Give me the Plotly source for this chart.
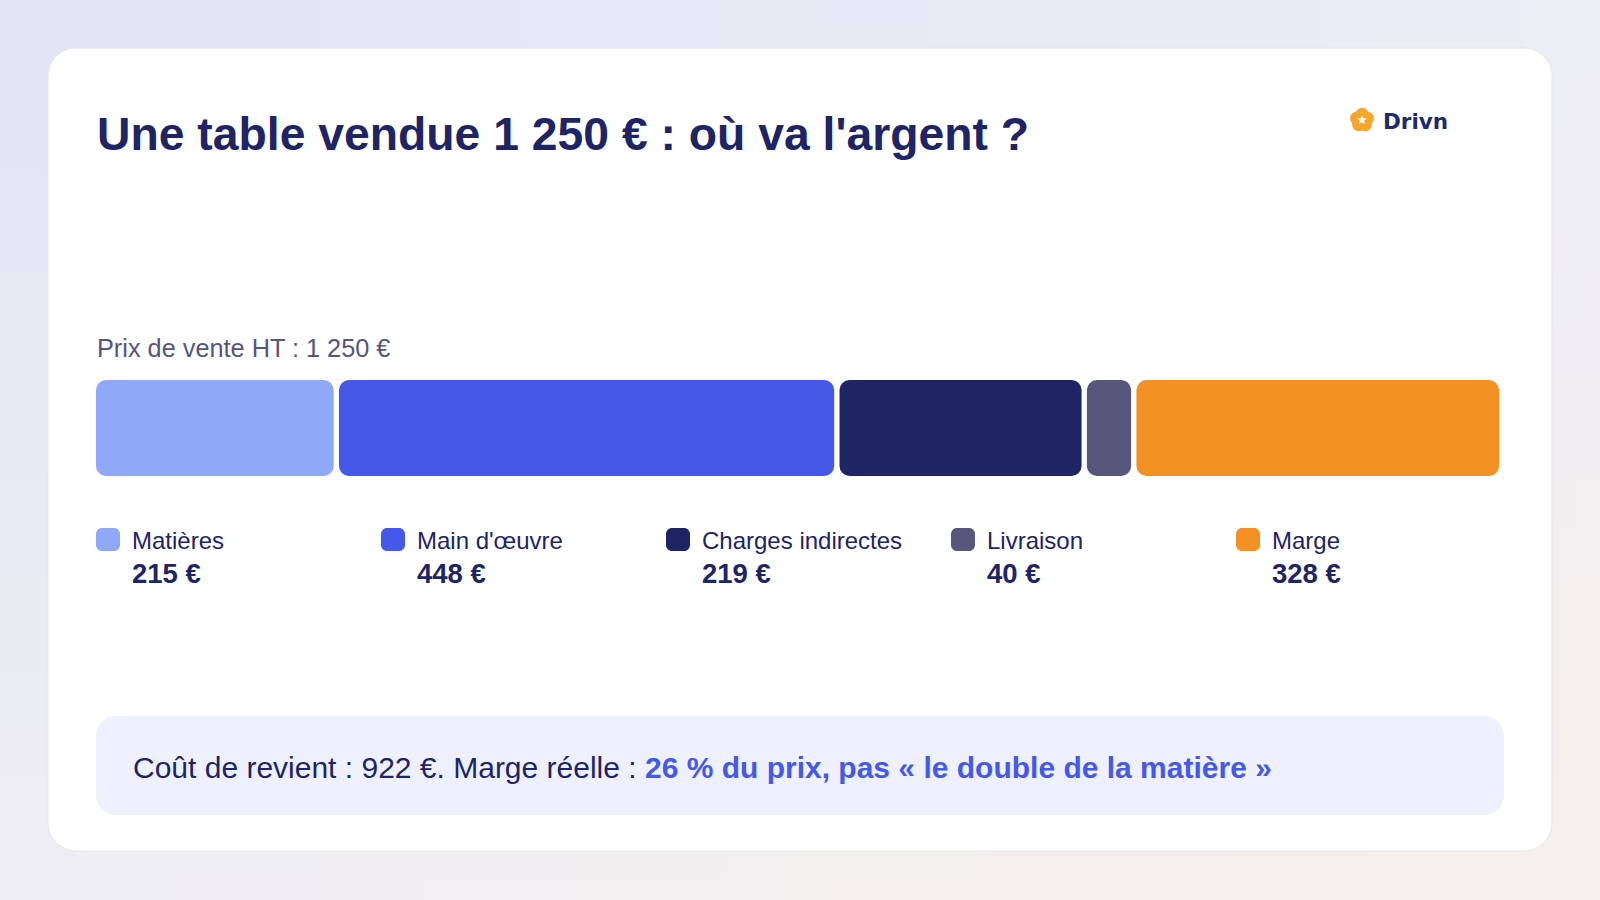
import base64, struct, zlib, math
import plotly.graph_objects as go

W, H = 1600, 900

# ---------------- data ----------------
categories = ["Matières", "Main d'œuvre", "Charges indirectes", "Livraison", "Marge"]
values = [215, 448, 219, 40, 328]
colors = ["#8FA8F8", "#4658E8", "#1E2464", "#56577A", "#F39125"]
price = 1250

NAVY = "#1E2464"
GREY = "#55567A"
BLUE = "#4658E8"
FONT = "Liberation Sans, Arial, Helvetica, sans-serif"


def fmt(n):
    return f"{n:,}".replace(",", " ")


def fx(x):
    return x / W


def fy(y):
    return 1 - y / H


def rr_path(x0, y0, x1, y1, r):
    k = 0.5523 * r
    pts = [
        f"M{fx(x0 + r)},{fy(y0)}",
        f"L{fx(x1 - r)},{fy(y0)}",
        f"C{fx(x1 - r + k)},{fy(y0)} {fx(x1)},{fy(y0 + r - k)} {fx(x1)},{fy(y0 + r)}",
        f"L{fx(x1)},{fy(y1 - r)}",
        f"C{fx(x1)},{fy(y1 - r + k)} {fx(x1 - r + k)},{fy(y1)} {fx(x1 - r)},{fy(y1)}",
        f"L{fx(x0 + r)},{fy(y1)}",
        f"C{fx(x0 + r - k)},{fy(y1)} {fx(x0)},{fy(y1 - r + k)} {fx(x0)},{fy(y1 - r)}",
        f"L{fx(x0)},{fy(y0 + r)}",
        f"C{fx(x0)},{fy(y0 + r - k)} {fx(x0 + r - k)},{fy(y0)} {fx(x0 + r)},{fy(y0)}",
        "Z",
    ]
    return " ".join(pts)


# ---------------- background gradient (png) ----------------
def gradient_png(w, h, tl, tr, bl, br):
    rows = []
    for j in range(h):
        v = j / (h - 1)
        row = bytearray([0])
        for i in range(w):
            u = i / (w - 1)
            for c in range(3):
                top = tl[c] * (1 - u) + tr[c] * u
                bot = bl[c] * (1 - u) + br[c] * u
                row.append(int(round(top * (1 - v) + bot * v)))
        rows.append(bytes(row))
    raw = b"".join(rows)

    def chunk(t, d):
        return struct.pack(">I", len(d)) + t + d + struct.pack(">I", zlib.crc32(t + d) & 0xFFFFFFFF)

    return (b"\x89PNG\r\n\x1a\n" + chunk(b"IHDR", struct.pack(">IIBBBBB", w, h, 8, 2, 0, 0, 0))
            + chunk(b"IDAT", zlib.compress(raw)) + chunk(b"IEND", b""))


png = gradient_png(32, 18, (227, 229, 245), (237, 237, 246), (239, 238, 243), (246, 240, 236))
bg_src = "data:image/png;base64," + base64.b64encode(png).decode()

# ---------------- bars ----------------
BAR_X0, BAR_X1, BAR_Y0, BAR_Y1 = 96, 1499, 380, 476
GAP_PX = 5.3
n = len(values)
gap = GAP_PX * price / ((BAR_X1 - BAR_X0) - (n - 1) * GAP_PX)

fig = go.Figure()
start = 0.0
for cat, v, col in zip(categories, values, colors):
    fig.add_trace(go.Bar(y=[0], x=[v], base=[start], orientation="h", width=1,
                         marker=dict(color=col, line=dict(width=0), cornerradius=10),
                         name=cat, hoverinfo="skip", showlegend=False))
    start = start + v + gap
total_span = start - gap

shapes = []
annotations = []

# card
shapes.append(dict(type="path", path=rr_path(48, 48, 1552, 851, 28), xref="paper", yref="paper",
                   fillcolor="white", line=dict(color="#E4E5EF", width=1), layer="below"))
# bottom box
shapes.append(dict(type="path", path=rr_path(96, 716, 1504, 815, 20), xref="paper", yref="paper",
                   fillcolor="#EEF1FD", line=dict(width=0), layer="below"))

# title
annotations.append(dict(x=fx(95), y=fy(134), xref="paper", yref="paper", xanchor="left", yanchor="middle",
                        showarrow=False,
                        text=f"<b>Une table vendue {fmt(price)} € : où va l'argent ?</b>",
                        font=dict(family=FONT, size=46.3, color=NAVY)))
# subtitle
annotations.append(dict(x=fx(95), y=fy(348), xref="paper", yref="paper", xanchor="left", yanchor="middle",
                        showarrow=False, text=f"Prix de vente HT : {fmt(price)} €",
                        font=dict(family=FONT, size=25.3, color=GREY)))

# logo
LX, LY = 1362, 120
for k in range(5):
    a = math.radians(-90 + k * 72)
    cx, cy = LX + 5.6 * math.cos(a), LY + 5.6 * math.sin(a)
    r = 6.6
    shapes.append(dict(type="circle", xref="paper", yref="paper",
                       x0=fx(cx - r), x1=fx(cx + r), y0=fy(cy + r), y1=fy(cy - r),
                       fillcolor="#F6A52E", line=dict(width=0)))
star = []
for k in range(10):
    a = math.radians(-90 + k * 36)
    rr = 5.0 if k % 2 == 0 else 2.2
    star.append((LX + rr * math.cos(a), LY + rr * math.sin(a)))
star_path = "M" + " L".join(f"{fx(x)},{fy(y)}" for x, y in star) + " Z"
shapes.append(dict(type="path", path=star_path, xref="paper", yref="paper",
                   fillcolor="white", line=dict(width=0)))
annotations.append(dict(x=fx(1381), y=fy(121), xref="paper", yref="paper", xanchor="left", yanchor="middle",
                        showarrow=False, text="<b>Drivn</b>",
                        font=dict(family="DejaVu Sans, sans-serif", size=21.5, color="#1E2A6B")))

# legend
COL_W = 285
for i, (cat, v, col) in enumerate(zip(categories, values, colors)):
    sx = 96 + i * COL_W
    shapes.append(dict(type="path", path=rr_path(sx, 528, sx + 24, 551, 6), xref="paper", yref="paper",
                       fillcolor=col, line=dict(width=0)))
    annotations.append(dict(x=fx(sx + 34), y=fy(540), xref="paper", yref="paper", xanchor="left",
                            yanchor="middle", showarrow=False, text=cat,
                            font=dict(family=FONT, size=24, color=NAVY)))
    annotations.append(dict(x=fx(sx + 34), y=fy(573), xref="paper", yref="paper", xanchor="left",
                            yanchor="middle", showarrow=False, text=f"<b>{v} €</b>",
                            font=dict(family=FONT, size=27.5, color=NAVY)))

# bottom message
cost = sum(values[:-1])
pct = round(100 * values[-1] / price)
msg = (f"Coût de revient : {cost} €. Marge réelle : "
       f"<b><span style='color:{BLUE}'>{pct} % du prix, pas « le double de la matière »</span></b>")
annotations.append(dict(x=fx(131), y=fy(767), xref="paper", yref="paper", xanchor="left", yanchor="middle",
                        showarrow=False, text=msg, font=dict(family=FONT, size=30, color=NAVY)))

fig.update_layout(
    width=W, height=H, margin=dict(l=0, r=0, t=0, b=0),
    paper_bgcolor="#EEEDF3", plot_bgcolor="rgba(0,0,0,0)",
    barmode="overlay",
    xaxis=dict(domain=[fx(BAR_X0), fx(BAR_X1)], range=[0, total_span], visible=False, fixedrange=True),
    yaxis=dict(domain=[fy(BAR_Y1), fy(BAR_Y0)], range=[-0.5, 0.5], visible=False, fixedrange=True),
    shapes=shapes, annotations=annotations,
    images=[dict(source=bg_src, xref="paper", yref="paper", x=0, y=1, sizex=1, sizey=1,
                 sizing="stretch", layer="below", xanchor="left", yanchor="top")],
    showlegend=False,
)

fig.write_html("out.html", config={"displayModeBar": False})
